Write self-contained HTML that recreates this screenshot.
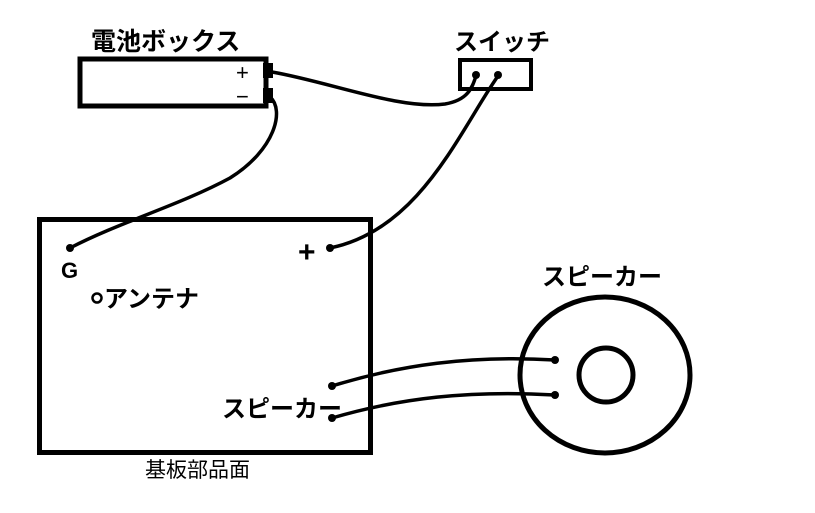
<!DOCTYPE html>
<html><head><meta charset="utf-8"><style>
html,body{margin:0;padding:0;background:#fff;width:815px;height:513px;overflow:hidden}
svg text{font-family:"Liberation Sans","Noto Sans CJK JP",sans-serif;fill:#000}
</style></head><body>
<svg width="815" height="513" viewBox="0 0 815 513" xmlns="http://www.w3.org/2000/svg">
<g fill="none" stroke="#000">
<rect x="80" y="59" width="186" height="47" stroke-width="5"/>
<rect x="460" y="60" width="71" height="29" stroke-width="4"/>
<rect x="39.5" y="219.5" width="331" height="233" stroke-width="5"/>
<ellipse cx="605" cy="375" rx="85" ry="78" stroke-width="5"/>
<circle cx="606" cy="375" r="27" stroke-width="5"/>
<g stroke-width="3.5">
<path d="M272,72 C330,82 400,110 445,104 C468,100 472,88 476,76"/>
<path d="M498,76 C460,130 420,230 330,248"/>
<path d="M270,97 C285,110 275,150 230,178 C180,205 120,222 70,248"/>
<path d="M332,386 C400,365 470,355 555,360"/>
<path d="M332,418 C400,398 470,390 555,395"/>
</g>
<circle cx="97" cy="298" r="4.5" stroke-width="2.5"/>
</g>
<g fill="#000">
<rect x="263" y="63" width="10" height="15"/>
<rect x="263" y="88" width="10" height="15"/>
<circle cx="476" cy="75" r="4"/><circle cx="498" cy="75" r="4"/>
<circle cx="70" cy="248" r="4"/><circle cx="330" cy="248" r="4"/>
<circle cx="332" cy="386" r="4"/><circle cx="332" cy="418" r="4"/>
<circle cx="555" cy="360" r="4"/><circle cx="555" cy="395" r="4"/>
</g>
<text x="91" y="50" font-size="25" font-weight="bold">電池ボックス</text>
<text x="454" y="50" font-size="24" font-weight="bold">スイッチ</text>
<text x="236" y="80" font-size="22">+</text>
<text x="236" y="104" font-size="22">−</text>
<text x="61" y="278" font-size="22" font-weight="bold">G</text>
<text x="104" y="307" font-size="24" font-weight="bold">アンテナ</text>
<text x="298" y="262" font-size="30" font-weight="bold">+</text>
<text x="222" y="417" font-size="24" font-weight="bold">スピーカー</text>
<text x="145" y="477" font-size="21">基板部品面</text>
<text x="542" y="285" font-size="24" font-weight="bold">スピーカー</text>
</svg>
</body></html>
